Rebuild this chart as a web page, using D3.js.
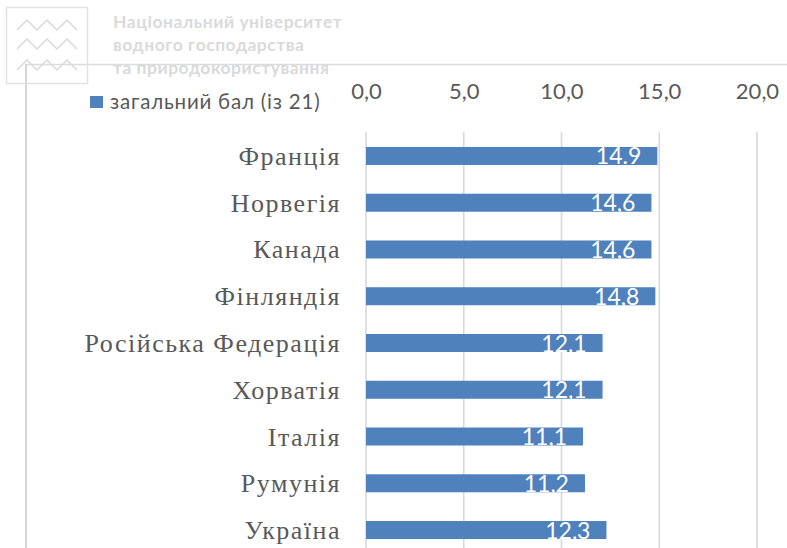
<!DOCTYPE html>
<html>
<head>
<meta charset="utf-8">
<script src="https://cdn.jsdelivr.net/npm/d3@7"></script>
<style>
  body { margin: 0; background: #fff; }
  svg { display: block; }
</style>
</head>
<body>
<div id="chart"></div>
<script>
// Data
var countries = ["Франція", "Норвегія", "Канада", "Фінляндія", "Російська Федерація",
                 "Хорватія", "Італія", "Румунія", "Україна"];
var scores = [14.9, 14.6, 14.6, 14.8, 12.1, 12.1, 11.1, 11.2, 12.3];
var scoreLabels = ["14.9", "14,6", "14,6", "14,8", "12,1", "12,1", "11,1", "11,2", "12,3"];
var xTicks = [0, 5, 10, 15, 20];
var legendLabel = "загальний бал (із 21)";
var watermark = ["Національний університет", "водного господарства", "та природокористування"];

var svgWidth = 787, svgHeight = 548;
var barColor = "#4f81bd";

var svg = d3.select("#chart")
  .append("svg")
  .attr("width", svgWidth)
  .attr("height", svgHeight);

// frame lines (from the slide)
svg.append("line")
  .attr("x1", 25).attr("x2", 787).attr("y1", 64.5).attr("y2", 64.5)
  .attr("stroke", "#dcdcdc").attr("stroke-width", 1.5);
svg.append("line")
  .attr("x1", 26).attr("x2", 26).attr("y1", 64).attr("y2", svgHeight)
  .attr("stroke", "#d6d6d6").attr("stroke-width", 2);

// watermark logo
var logo = svg.append("g");
logo.append("rect")
  .attr("x", 6.5).attr("y", 7.5).attr("width", 81).attr("height", 76)
  .attr("fill", "none").attr("stroke", "#e2e2e2").attr("stroke-width", 1.5);
[25, 44, 65].forEach(function(yc) {
  var pts = [];
  for (var i = 0; i <= 6; i++) {
    pts.push([17 + i * 10, yc + (i % 2 === 0 ? 5 : -5)]);
  }
  logo.append("path")
    .attr("d", d3.line()(pts))
    .attr("fill", "none").attr("stroke", "#dadada").attr("stroke-width", 1.5);
});
logo.selectAll("text.wm")
  .data(watermark)
  .enter().append("text")
  .attr("class", "wm")
  .attr("x", 113)
  .attr("y", function(d, i) { return 28 + i * 23; })
  .attr("font-family", "Lato, 'Open Sans', sans-serif")
  .attr("font-weight", "bold")
  .attr("font-size", 17.5)
  .attr("letter-spacing", 0.5)
  .attr("fill", "#dadada")
  .text(function(d) { return d; });

// scales
var x = d3.scaleLinear().domain([0, 20]).range([366, 757]);
var y = d3.scaleBand()
  .domain(countries)
  .range([132.6, 553.4])
  .paddingInner(0.615)
  .paddingOuter(0.3075);

// gridlines
svg.append("g")
  .selectAll("line")
  .data(xTicks)
  .enter().append("line")
  .attr("x1", function(d) { return x(d); })
  .attr("x2", function(d) { return x(d); })
  .attr("y1", 132).attr("y2", svgHeight)
  .attr("stroke", "#d9d9d9").attr("stroke-width", 1.6);

// top axis labels
var fmt = function(d) { return d3.format(".1f")(d).replace(".", ","); };
var axis = d3.axisTop(x).tickValues(xTicks).tickFormat(fmt).tickSize(0);
var axisG = svg.append("g")
  .attr("transform", "translate(0,102)")
  .call(axis);
axisG.select(".domain").remove();
axisG.selectAll("text")
  .attr("font-family", "Lato, 'Open Sans', sans-serif")
  .attr("font-size", 22)
  .attr("fill", "#595959")
  .attr("dy", 0);

// legend
svg.append("rect")
  .attr("x", 90).attr("y", 96).attr("width", 13).attr("height", 12)
  .attr("fill", barColor);
svg.append("text")
  .attr("x", 110).attr("y", 109)
  .attr("font-family", "Lato, 'Open Sans', sans-serif")
  .attr("font-size", 20.5)
  .attr("letter-spacing", 0.8)
  .attr("fill", "#595959")
  .text(legendLabel);

// bars
svg.append("g")
  .selectAll("rect")
  .data(scores)
  .enter().append("rect")
  .attr("x", x(0))
  .attr("y", function(d, i) { return y(countries[i]); })
  .attr("width", function(d) { return x(d) - x(0); })
  .attr("height", y.bandwidth())
  .attr("fill", barColor);

// value labels
svg.append("g")
  .selectAll("text")
  .data(scores)
  .enter().append("text")
  .attr("x", function(d) { return x(d) - 16; })
  .attr("y", function(d, i) { return y(countries[i]) + y.bandwidth() / 2 + 8.5; })
  .attr("text-anchor", "end")
  .attr("font-family", "Lato, 'Open Sans', sans-serif")
  .attr("font-size", 23)
  .attr("fill", "#fff")
  .text(function(d, i) { return scoreLabels[i]; });

// category labels
svg.append("g")
  .selectAll("text")
  .data(countries)
  .enter().append("text")
  .attr("x", 341)
  .attr("y", function(d) { return y(d) + y.bandwidth() / 2 + 9; })
  .attr("text-anchor", "end")
  .attr("font-family", "'Liberation Serif', 'Times New Roman', serif")
  .attr("font-size", 26)
  .attr("letter-spacing", 1.5)
  .attr("fill", "#595959")
  .text(function(d) { return d; });
</script>
</body>
</html>
